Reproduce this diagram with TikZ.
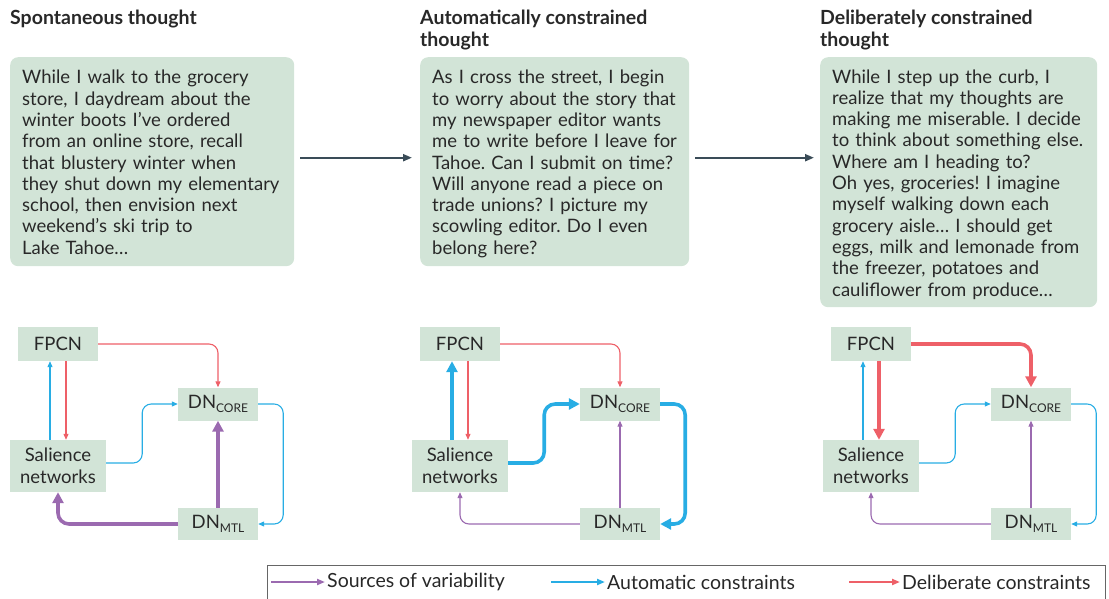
\documentclass[tikz,border=0pt]{standalone}
\usepackage{fontspec}
\setmainfont{Lato}
\usetikzlibrary{
  arrows.meta, positioning
}

\definecolor{boxgreen}{RGB}{210,228,215}
\definecolor{varpurple}{RGB}{155,106,176}
\definecolor{autoblue}{RGB}{40,173,228}
\definecolor{delred}{RGB}{238,96,104}
\definecolor{slate}{RGB}{58,76,88}
\definecolor{ink}{RGB}{40,40,40}

\newcommand{\topgap}{\rule{0pt}{21pt}}

\tikzset{
  story/.style={fill=boxgreen, rounded corners=8pt, anchor=north west,
    inner xsep=12pt, inner ysep=0pt, align=left, text=ink,
    font=\fontsize{18.5}{21.3}\selectfont},
  heading/.style={anchor=north west, inner sep=0pt, align=left, text=ink,
    font=\fontsize{19.5}{22}\selectfont\bfseries},
  net/.style={fill=boxgreen, minimum width=80pt, minimum height=34pt,
    inner sep=2pt, align=center, text=ink,
    font=\fontsize{18.5}{22}\selectfont},
  weak/.style={line width=1.1pt, rounded corners=9pt,
    -{Triangle[length=6pt,width=5pt]}},
  strong/.style={line width=3.6pt, rounded corners=11pt,
    -{Triangle[length=11pt,width=11pt]}},
  flow/.style={slate, line width=2pt, -{Triangle[length=9pt,width=7pt]}},
  legtext/.style={anchor=west, inner sep=2pt, text=ink,
    font=\fontsize{19.5}{22}\selectfont},
  legarrow/.style={line width=2.4pt, -{Triangle[length=8pt,width=6pt]}}
}

\begin{document}
\frenchspacing
\begin{tikzpicture}[x=1pt,y=-1pt]
  \useasboundingbox (0,0) rectangle (1109,598);

  % headings
  \node[heading] (head1) at (10,10) {Spontaneous thought};
  \node[heading] (head2) at (420,10) {Automatically constrained\\thought};
  \node[heading] (head3) at (820,10) {Deliberately constrained\\thought};

  % thought boxes
  \node[story, text width=260pt, minimum height=209pt] (story1) at (10,57)
    {\topgap While I walk to the grocery\\
     store, I daydream about the\\
     winter boots I’ve ordered\\
     from an online store, recall\\
     that blustery winter when\\
     they shut down my elementary\\
     school, then envision next\\
     weekend’s ski trip to\\
     Lake Tahoe\ldots\strut};
  \node[story, text width=245pt, minimum height=209pt] (story2) at (420,57)
    {\topgap As I cross the street, I begin\\
     to worry about the story that\\
     my newspaper editor wants\\
     me to write before I leave for\\
     Tahoe. Can I submit on time?\\
     Will anyone read a piece on\\
     trade unions? I picture my\\
     scowling editor. Do I even\\
     belong here?\strut};
  \node[story, text width=253pt, minimum height=250pt] (story3) at (820,57)
    {\topgap While I step up the curb, I\\
     realize that my thoughts are\\
     making me miserable. I decide\\
     to think about something else.\\
     Where am I heading to?\\
     Oh yes, groceries! I imagine\\
     myself walking down each\\
     grocery aisle\ldots{} I should get\\
     eggs, milk and lemonade from\\
     the freezer, potatoes and\\
     cauliflower from produce\ldots\strut};

  \draw[flow, shorten <=6pt, shorten >=8pt]
    ([yshift=4pt]story1.east) -- ([yshift=4pt]story1.east -| story2.west);
  \draw[flow, shorten <=6pt, shorten >=6pt]
    ([yshift=4pt]story1.east -| story2.east) -- ([yshift=4pt]story1.east -| story3.west);

  % networks, one panel per kind of thought
  \foreach \p/\dx/\r/\b/\v in {1/0/weak/weak/strong,
                               2/402/weak/strong/weak,
                               3/813/strong/weak/weak} {
    \begin{scope}[xshift=\dx]
      \node[net] (fpcn\p) at (58,344) {FPCN};
      \node[net, minimum height=33pt] (core\p) at (218,404)
        {DN\raisebox{-0.45ex}{\fontsize{12}{12}\selectfont CORE}};
      \node[net, minimum width=96pt, minimum height=52pt] (sal\p) at (58,466)
        {Salience\\networks};
      \node[net, minimum height=32pt] (mtl\p) at (218,524)
        {DN\raisebox{-0.45ex}{\fontsize{12}{12}\selectfont MTL}};

      \draw[\r, delred] (fpcn\p.east) -| (core\p.north);
      \draw[\r, delred] ([xshift=8pt]fpcn\p.south) -- ([xshift=8pt]sal\p.north);
      \draw[\b, autoblue] ([xshift=-8pt]sal\p.north) -- ([xshift=-8pt]fpcn\p.south);
      \draw[\b, autoblue] ([yshift=3pt]sal\p.east) -- ++(36,0) |- (core\p.west);
      \draw[\b, autoblue] (core\p.east) -- ++(25,0) |- (mtl\p.east);
      \draw[\v, varpurple] (mtl\p.west) -| (sal\p.south);
      \draw[\v, varpurple] (mtl\p.north) -- (core\p.south);
    \end{scope}
  }

  % legend
  \node[draw=black!60, line width=0.8pt, anchor=north west, minimum width=838pt,
        minimum height=40pt, inner sep=0pt] (legend) at (267,565) {};
  \node[legtext] (lvar) at (325,582) {Sources of variability};
  \node[legtext] (lauto) at (605,582) {Automatic constraints};
  \node[legtext] (ldel) at (900,582) {Deliberate constraints};
  \coordinate (lvar0) at (271,582);
  \coordinate (lauto0) at (551,582);
  \coordinate (ldel0) at (849,582);
  \draw[legarrow, varpurple] (lvar0) -- (lvar.west);
  \draw[legarrow, autoblue] (lauto0) -- (lauto.west);
  \draw[legarrow, delred] (ldel0) -- (ldel.west);
\end{tikzpicture}
\end{document}
